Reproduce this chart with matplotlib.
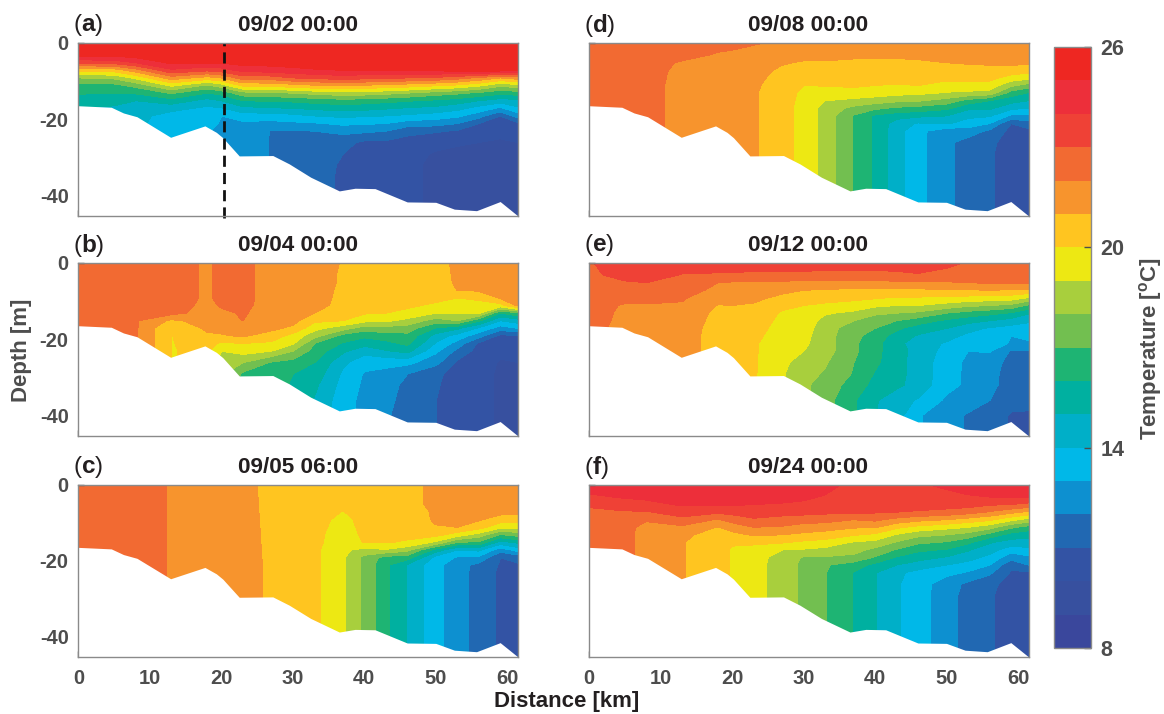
import numpy as np
import matplotlib
matplotlib.use("Agg")
import matplotlib.pyplot as plt
from matplotlib.colors import ListedColormap, BoundaryNorm
from matplotlib.cm import ScalarMappable

plt.rcParams.update({
    "font.family": "Liberation Sans", "font.weight": "bold",
    "mathtext.fontset": "custom", "mathtext.rm": "Liberation Sans:weight=normal",
    "mathtext.bf": "Liberation Sans:bold", "axes.unicode_minus": False,
})

# Section coordinates
distance_km = [0, 5, 8, 13, 18, 20, 23, 27, 30, 33, 37, 40, 43, 46, 50, 53, 56, 59, 61.5]
depth_m = [0, -3, -5, -7, -9, -11, -13, -15, -17, -19, -21, -23, -26, -29, -32, -36, -40, -46]
# Sea floor
bottom_km = [0, 4.6, 6.3, 8.2, 12.9, 17.7, 19.3, 20.2, 22.5, 27.2, 29.5, 32.5, 36.5, 38.7, 41.5, 46, 50, 52.6, 55.7, 59, 61.5]
bottom_m = [-16.5, -16.9, -18.4, -19.4, -24.8, -21.8, -23.5, -24.9, -29.7, -29.6, -31.8, -35.3, -38.9, -38.2, -38.3, -41.8, -41.9, -43.7, -44.1, -41.7, -45.5]

# Temperature profiles: one line per distance, one value per depth
temp_a = [
 [25.8,25.3,23.2,20.2,18.0,16.6,16.1,15.4,15.0,15.0,15.0,15.0,15.0,15.0,15.0,15.0,15.0,15.0],
 [25.8,25.3,23.4,20.4,18.2,16.7,16.0,15.2,14.9,14.9,14.9,14.9,14.9,14.9,14.9,14.9,14.9,14.9],
 [25.8,25.5,24.0,21.5,19.2,17.3,16.1,15.0,14.4,14.3,14.3,14.3,14.3,14.3,14.3,14.3,14.3,14.3],
 [25.8,25.6,25.2,23.8,21.5,19.2,17.1,15.6,14.3,13.6,13.3,13.2,13.2,13.2,13.2,13.2,13.2,13.2],
 [25.8,25.6,25.1,23.2,20.6,17.8,16.0,14.6,13.8,13.5,13.3,13.1,13.0,13.0,13.0,13.0,13.0,13.0],
 [25.8,25.6,25.1,23.5,21.0,18.5,16.3,15.0,13.9,13.0,12.9,12.7,12.7,12.7,12.7,12.7,12.7,12.7],
 [25.8,25.6,25.4,24.3,22.5,20.2,17.6,16.0,14.7,13.5,12.8,12.6,12.6,12.6,12.6,12.6,12.6,12.6],
 [25.8,25.7,25.4,24.5,22.5,20.3,17.8,16.1,14.9,13.5,12.7,11.95,11.9,11.9,11.9,11.9,11.9,11.9],
 [25.8,25.7,25.5,24.7,23.0,20.6,18.0,16.2,15.0,13.7,12.8,11.9,11.6,11.5,11.5,11.5,11.5,11.5],
 [25.8,25.7,25.5,24.9,23.2,20.9,18.3,16.4,15.2,14.0,12.9,12.0,11.5,11.3,11.3,11.3,11.3,11.3],
 [25.8,25.7,25.6,25.0,23.5,21.0,18.6,16.6,15.4,14.2,13.2,12.3,11.3,11.0,10.9,10.85,10.85,10.85],
 [25.8,25.7,25.6,25.0,23.3,20.9,18.5,16.5,15.3,14.1,13.1,12.2,10.8,10.6,10.5,10.4,10.4,10.4],
 [25.8,25.7,25.6,25.1,23.2,20.7,18.3,16.3,15.1,14.0,13.0,12.0,10.8,10.5,10.4,10.3,10.3,10.3],
 [25.8,25.7,25.6,25.1,23.0,20.5,18.0,16.1,14.9,13.8,12.5,11.3,10.6,10.3,10.2,10.2,10.2,10.2],
 [25.8,25.7,25.6,25.2,22.8,20.1,17.5,15.8,14.7,13.5,12.4,11.1,10.3,9.9,9.8,9.8,9.8,9.8],
 [25.8,25.7,25.6,25.3,22.4,19.8,17.2,15.5,14.3,13.2,12.0,10.9,10.1,9.8,9.7,9.7,9.7,9.7],
 [25.8,25.7,25.6,25.4,21.8,19.2,16.8,15.0,13.6,12.4,11.0,10.5,10.0,9.7,9.7,9.7,9.7,9.7],
 [25.8,25.7,25.6,25.4,21.0,18.2,16.3,14.5,12.8,11.0,10.4,10.2,9.9,9.7,9.7,9.7,9.7,9.7],
 [25.8,25.7,25.6,25.3,21.5,18.6,16.5,14.7,13.8,12.4,10.8,10.4,10.0,9.8,9.8,9.8,9.8,9.8],
]
temp_b = [
 [22.5,22.5,22.5,22.5,22.5,22.5,22.5,22.5,22.5,22.5,22.5,22.5,22.5,22.5,22.5,22.5,22.5,22.5],
 [22.5,22.5,22.5,22.5,22.5,22.5,22.5,22.5,22.5,22.5,22.5,22.5,22.5,22.5,22.5,22.5,22.5,22.5],
 [22.5,22.5,22.5,22.5,22.4,22.2,22.1,22.1,22.1,22.1,22.1,22.1,22.1,22.1,22.1,22.1,22.1,22.1],
 [22.6,22.6,22.6,22.6,22.6,22.5,22.3,20.8,19.95,19.95,19.95,19.95,19.95,19.95,19.95,19.95,19.95,19.95],
 [21.8,21.8,21.8,21.8,21.8,21.7,21.6,21.4,21.2,20.8,20.4,20.2,20.2,20.2,20.2,20.2,20.2,20.2],
 [22.3,22.3,22.3,22.3,22.3,22.1,21.8,21.5,21.3,20.9,19.8,19.0,18.2,18.2,18.2,18.2,18.2,18.2],
 [22.2,22.2,22.2,22.2,22.2,22.2,22.1,22.0,21.6,21.1,20.0,19.4,18.0,16.8,16.6,16.6,16.6,16.6],
 [21.7,21.7,21.7,21.7,21.7,21.6,21.5,21.4,21.2,20.6,19.8,19.0,16.9,16.4,16.3,16.3,16.3,16.3],
 [21.6,21.6,21.6,21.6,21.6,21.6,21.6,21.3,20.8,19.6,19.1,18.0,16.6,16.0,15.9,15.9,15.9,15.9],
 [21.6,21.6,21.6,21.6,21.6,21.5,21.0,20.2,19.3,18.4,17.0,16.6,16.0,15.6,15.2,14.9,14.8,14.8],
 [20.9,20.8,20.8,20.7,20.6,20.5,20.3,20.0,18.4,16.6,15.9,15.2,14.2,13.8,13.6,13.4,13.3,13.3],
 [20.9,20.8,20.7,20.6,20.5,20.4,20.1,19.3,17.5,16.2,15.4,14.3,13.4,12.9,12.8,12.7,12.7,12.7],
 [20.9,20.8,20.7,20.6,20.5,20.3,20.0,19.2,17.6,16.5,15.7,14.9,13.3,12.7,12.3,12.2,12.1,12.1],
 [20.9,20.8,20.7,20.6,20.4,20.2,19.7,18.7,17.5,16.7,16.2,15.3,13.3,12.0,11.8,11.7,11.6,11.6],
 [20.8,20.7,20.6,20.5,20.3,19.8,19.0,17.5,15.9,14.6,13.9,13.2,12.3,11.2,11.1,11.0,11.0,11.0],
 [21.1,21.1,21.1,21.0,20.0,19.6,19.1,18.0,15.2,13.6,12.6,11.7,10.8,10.6,10.5,10.5,10.5,10.5],
 [21.2,21.2,21.2,21.1,20.2,19.6,19.2,16.2,13.8,12.4,10.8,10.6,10.5,10.4,10.4,10.4,10.4,10.4],
 [21.3,21.3,21.3,21.2,21.1,19.6,16.0,14.0,12.5,10.7,10.4,10.2,9.9,9.8,9.8,9.8,9.8,9.8],
 [21.4,21.4,21.4,21.4,21.3,21.2,16.8,14.5,13.0,10.9,10.6,10.3,10.0,9.9,9.9,9.9,9.9,9.9],
]
temp_c = [
 [22.6,22.6,22.6,22.6,22.6,22.6,22.6,22.6,22.6,22.6,22.6,22.6,22.6,22.6,22.6,22.6,22.6,22.6],
 [22.6,22.6,22.6,22.6,22.6,22.6,22.6,22.6,22.6,22.6,22.6,22.6,22.6,22.6,22.6,22.6,22.6,22.6],
 [22.5,22.5,22.5,22.5,22.5,22.5,22.5,22.5,22.5,22.5,22.5,22.5,22.5,22.5,22.5,22.5,22.5,22.5],
 [21.9,21.9,21.9,21.9,21.9,21.9,21.9,21.9,21.9,21.9,21.9,21.9,21.9,21.9,21.9,21.9,21.9,21.9],
 [21.5,21.5,21.5,21.5,21.5,21.5,21.5,21.5,21.5,21.5,21.5,21.5,21.5,21.5,21.5,21.5,21.5,21.5],
 [21.4,21.4,21.4,21.4,21.4,21.4,21.4,21.4,21.4,21.4,21.4,21.4,21.4,21.4,21.4,21.4,21.4,21.4],
 [21.15,21.15,21.16,21.16,21.17,21.17,21.18,21.18,21.19,21.19,21.2,21.2,21.2,21.2,21.2,21.2,21.2,21.2],
 [20.85,20.85,20.86,20.86,20.87,20.87,20.88,20.88,20.89,20.89,20.9,20.9,20.9,20.9,20.9,20.9,20.9,20.9],
 [20.7,20.7,20.7,20.7,20.7,20.7,20.7,20.7,20.7,20.7,20.7,20.7,20.7,20.7,20.7,20.7,20.7,20.7],
 [20.5,20.5,20.5,20.5,20.4,20.4,20.3,20.3,20.2,20.2,20.2,20.2,20.2,20.2,20.2,20.2,20.2,20.2],
 [20.4,20.3,20.2,19.95,19.7,19.5,19.4,19.3,19.2,19.1,19.1,19.1,19.1,19.1,19.1,19.1,19.1,19.1],
 [20.4,20.4,20.4,20.4,20.3,20.3,20.2,20.05,18.7,17.7,17.7,17.7,17.7,17.7,17.7,17.7,17.7,17.7],
 [20.5,20.5,20.5,20.5,20.4,20.3,20.2,20.05,18.9,16.6,16.2,16.2,16.2,16.2,16.2,16.2,16.2,16.2],
 [20.7,20.7,20.7,20.6,20.5,20.4,20.2,19.9,18.3,16.5,14.9,14.9,14.9,14.9,14.9,14.9,14.9,14.9],
 [21.2,21.2,21.2,21.1,21.1,20.95,20.3,18.8,15.6,13.6,13.3,13.3,13.3,13.3,13.3,13.3,13.3,13.3],
 [21.4,21.4,21.4,21.3,21.2,21.0,19.5,17.0,14.0,12.9,12.4,12.4,12.4,12.4,12.4,12.4,12.4,12.4],
 [21.5,21.5,21.5,21.4,21.1,20.4,18.6,16.8,14.2,12.8,11.7,11.6,11.6,11.6,11.6,11.6,11.6,11.6],
 [21.6,21.6,21.6,21.3,20.5,19.3,16.9,14.6,12.4,11.0,10.9,10.8,10.8,10.8,10.8,10.8,10.8,10.8],
 [21.8,21.7,21.7,21.2,20.4,19.2,17.4,15.2,13.4,11.3,10.9,10.7,10.5,10.5,10.5,10.5,10.5,10.5],
]
temp_d = [
 [22.95,22.8,22.8,22.8,22.8,22.8,22.8,22.8,22.8,22.8,22.8,22.8,22.8,22.8,22.8,22.8,22.8,22.8],
 [22.7,22.6,22.6,22.6,22.6,22.6,22.6,22.6,22.6,22.6,22.6,22.6,22.6,22.6,22.6,22.6,22.6,22.6],
 [22.6,22.5,22.4,22.3,22.3,22.3,22.3,22.3,22.3,22.3,22.3,22.3,22.3,22.3,22.3,22.3,22.3,22.3],
 [22.5,22.3,21.9,21.8,21.75,21.7,21.7,21.7,21.7,21.7,21.7,21.7,21.7,21.7,21.7,21.7,21.7,21.7],
 [22.3,21.9,21.7,21.6,21.5,21.5,21.4,21.4,21.4,21.4,21.4,21.4,21.4,21.4,21.4,21.4,21.4,21.4],
 [22.2,21.85,21.6,21.5,21.45,21.4,21.4,21.4,21.4,21.4,21.4,21.4,21.4,21.4,21.4,21.4,21.4,21.4],
 [22.05,21.7,21.5,21.4,21.3,21.2,21.1,21.1,21.1,21.1,21.1,21.1,21.1,21.1,21.1,21.1,21.1,21.1],
 [21.85,21.4,21.1,20.8,20.6,20.4,20.4,20.4,20.4,20.4,20.4,20.4,20.4,20.4,20.4,20.4,20.4,20.4],
 [21.8,21.3,20.9,20.6,20.3,20.0,19.8,19.7,19.6,19.6,19.6,19.6,19.6,19.6,19.6,19.6,19.6,19.6],
 [21.7,21.3,20.9,20.6,20.3,20.05,19.5,19.0,18.6,18.6,18.6,18.6,18.6,18.6,18.6,18.6,18.6,18.6],
 [21.6,21.3,20.7,20.6,20.3,20.1,19.7,18.7,17.7,16.9,16.9,16.9,16.9,16.9,16.9,16.9,16.9,16.9],
 [21.6,21.2,20.7,20.5,20.25,20.0,19.5,18.5,17.2,15.8,15.75,15.75,15.75,15.75,15.75,15.75,15.75,15.75],
 [21.6,21.2,20.75,20.45,20.2,19.95,19.3,18.2,16.8,15.4,14.5,14.4,14.4,14.4,14.4,14.4,14.4,14.4],
 [21.6,21.3,20.8,20.4,20.2,20.0,19.2,18.1,16.6,15.2,13.9,13.3,13.3,13.3,13.3,13.3,13.3,13.3],
 [21.6,21.4,21.0,20.45,20.2,19.7,18.9,17.6,16.2,15.0,14.1,12.3,12.2,12.2,12.2,12.2,12.2,12.2],
 [21.6,21.4,21.1,20.6,20.4,19.6,18.8,16.6,15.2,14.2,13.6,12.5,11.6,11.6,11.6,11.6,11.6,11.6],
 [21.6,21.4,21.15,20.7,20.3,19.6,18.6,16.0,15.2,14.1,13.0,11.8,11.2,11.1,11.1,11.1,11.1,11.1],
 [21.6,21.4,21.2,20.6,19.6,18.2,16.5,15.4,14.2,12.8,11.0,10.7,10.6,10.6,10.6,10.6,10.6,10.6],
 [21.7,21.5,21.2,20.4,19.3,17.5,15.9,15.0,14.0,12.7,11.6,10.7,10.6,10.6,10.6,10.6,10.6,10.6],
]
temp_e = [
 [22.9,22.8,22.7,22.6,22.5,22.4,22.4,22.3,22.3,22.3,22.3,22.3,22.3,22.3,22.3,22.3,22.3,22.3],
 [23.5,23.3,22.9,22.6,22.3,21.9,21.8,21.8,21.7,21.7,21.7,21.7,21.7,21.7,21.7,21.7,21.7,21.7],
 [23.6,23.4,23.0,22.7,22.4,21.9,21.8,21.7,21.6,21.6,21.6,21.6,21.6,21.6,21.6,21.6,21.6,21.6],
 [23.4,22.95,22.8,22.5,22.1,21.9,21.8,21.7,21.6,21.5,21.5,21.5,21.5,21.5,21.5,21.5,21.5,21.5],
 [23.4,22.9,22.0,21.7,21.4,20.95,20.7,20.6,20.5,20.5,20.5,20.5,20.5,20.5,20.5,20.5,20.5,20.5],
 [23.4,22.9,21.9,21.6,21.3,21.0,20.7,20.5,20.4,20.3,20.3,20.3,20.3,20.3,20.3,20.3,20.3,20.3],
 [23.4,22.8,21.8,21.5,21.2,20.9,20.6,20.4,20.3,20.2,20.1,20.1,20.1,20.1,20.1,20.1,20.1,20.1],
 [23.4,22.8,21.8,21.2,20.8,20.2,19.9,19.8,19.7,19.6,19.5,19.4,19.2,19.1,19.1,19.1,19.1,19.1],
 [23.4,22.8,21.7,21.0,20.5,20.0,19.6,19.5,19.4,19.3,19.2,19.0,18.6,18.3,18.2,18.2,18.2,18.2],
 [23.3,22.8,21.7,20.9,20.4,19.8,19.1,18.7,18.5,18.4,18.4,18.4,18.1,17.9,17.5,17.4,17.4,17.4],
 [23.3,22.8,21.7,20.8,20.3,19.5,18.8,18.0,17.4,17.3,17.2,17.2,17.0,16.9,16.6,16.1,16.1,16.1],
 [23.3,22.8,21.7,20.7,20.1,19.2,18.2,17.4,17.0,16.5,16.3,16.3,16.2,15.9,15.6,15.1,15.0,15.0],
 [23.4,22.8,21.8,20.8,19.9,19.0,18.0,17.0,16.2,15.6,15.3,15.3,15.3,15.3,15.2,14.4,14.4,14.4],
 [23.6,22.9,21.8,20.8,19.9,19.0,17.8,16.5,15.5,14.9,14.4,14.7,14.6,14.6,14.6,13.9,13.1,13.1],
 [23.2,22.7,21.9,20.9,19.8,18.6,17.0,15.8,15.0,14.3,13.9,13.6,13.4,13.35,13.3,12.8,12.3,12.3],
 [22.9,22.7,22.0,20.9,19.7,18.2,16.6,15.4,14.3,13.8,13.4,13.0,12.8,12.8,12.8,12.4,11.9,11.9],
 [22.9,22.7,22.1,21.0,19.6,18.0,16.3,15.0,13.9,13.6,13.5,13.1,12.4,12.3,12.3,12.0,11.5,11.5],
 [22.9,22.7,22.1,20.9,19.5,17.7,15.9,14.6,13.6,13.0,12.9,11.9,11.7,11.6,11.5,11.3,10.9,10.9],
 [22.8,22.6,22.1,20.8,18.9,16.8,15.1,14.1,13.7,13.3,12.8,11.9,11.8,11.7,11.5,11.2,10.9,10.9],
]
temp_f = [
 [24.5,23.8,23.2,22.7,22.6,22.5,22.5,22.4,22.4,22.4,22.4,22.4,22.4,22.4,22.4,22.4,22.4,22.4],
 [24.6,24.1,23.5,22.9,22.4,22.3,22.2,22.2,22.2,22.2,22.2,22.2,22.2,22.2,22.2,22.2,22.2,22.2],
 [24.6,24.2,23.7,22.9,22.1,21.7,21.7,21.7,21.7,21.7,21.7,21.7,21.7,21.7,21.7,21.7,21.7,21.7],
 [24.9,24.5,24.1,23.5,22.7,21.8,21.2,21.05,21.05,21.05,21.05,21.05,21.05,21.05,21.05,21.05,21.05,21.05],
 [24.9,24.6,24.1,23.2,21.9,20.95,20.6,20.4,20.3,20.3,20.3,20.3,20.3,20.3,20.3,20.3,20.3,20.3],
 [24.9,24.6,24.1,23.3,22.4,21.4,20.7,20.1,19.9,19.9,19.9,19.9,19.9,19.9,19.9,19.9,19.9,19.9],
 [24.9,24.5,24.0,23.4,22.9,22.0,21.1,20.2,19.6,19.5,19.45,19.45,19.45,19.45,19.45,19.45,19.45,19.45],
 [24.9,24.4,23.9,23.4,22.6,21.9,21.0,20.1,19.0,18.5,18.4,18.4,18.4,18.4,18.4,18.4,18.4,18.4],
 [24.8,24.2,23.8,23.3,22.5,21.5,20.8,19.8,18.9,17.9,17.8,17.8,17.8,17.8,17.8,17.8,17.8,17.8],
 [24.4,23.9,23.6,23.2,22.4,21.4,20.6,19.6,18.7,17.9,17.1,17.05,17.05,17.05,17.05,17.05,17.05,17.05],
 [23.6,23.5,23.4,23.2,22.0,21.1,20.1,18.9,18.4,17.7,16.5,15.95,15.95,15.95,15.95,15.95,15.95,15.95],
 [23.7,23.5,23.3,23.1,22.2,21.1,19.8,18.7,17.7,16.9,15.7,15.05,15.05,15.05,15.05,15.05,15.05,15.05],
 [23.8,23.6,23.3,23.0,21.7,20.2,18.9,17.9,16.9,15.9,15.0,14.2,14.1,14.1,14.1,14.1,14.1,14.1],
 [23.9,23.7,23.4,22.9,21.3,19.7,18.3,17.2,16.2,15.4,14.5,13.7,13.5,13.5,13.5,13.5,13.5,13.5],
 [24.1,23.8,23.4,22.7,21.0,19.3,18.0,16.9,15.9,14.9,14.0,13.3,12.4,12.3,12.3,12.3,12.3,12.3],
 [24.4,23.9,23.4,22.4,20.6,19.0,17.6,16.2,15.1,14.4,13.6,12.9,11.8,11.7,11.7,11.7,11.7,11.7],
 [24.5,24.0,23.1,21.9,20.2,18.4,16.6,15.1,14.4,13.7,13.0,12.2,11.2,11.1,11.1,11.1,11.1,11.1],
 [24.6,24.0,23.0,21.3,19.3,17.2,15.6,14.6,13.4,12.4,11.2,10.9,10.7,10.6,10.6,10.6,10.6,10.6],
 [24.6,24.0,22.7,20.8,18.6,16.6,15.3,14.6,13.7,12.8,12.0,10.9,10.6,10.5,10.5,10.5,10.5,10.5],
]

panel_letters = ["a", "b", "c", "d", "e", "f"]
panel_times = ["09/02 00:00", "09/04 00:00", "09/05 06:00", "09/08 00:00", "09/12 00:00", "09/24 00:00"]
panel_temps = [temp_a, temp_b, temp_c, temp_d, temp_e, temp_f]
transect_km = 20.3
temp_levels = list(range(8, 27))
temp_colors = ["#3A479C", "#37509F", "#3353A4", "#2168B2", "#0D90D0", "#00B8E8", "#00AFC8", "#00B0A0", "#1EB473",
               "#72BF50", "#A8CF3D", "#EDE813", "#FFC520", "#F7942D", "#F26A32", "#EF4136", "#ED2F3A", "#EE2722"]
cbar_ticks = [8, 14, 20, 26]

W, H = 1164, 714
GRAY, DARK, SPINE = "#4d4d4d", "#231f20", "#8a8a8a"
fig = plt.figure(figsize=(W / 100, H / 100), dpi=100)
cmap = ListedColormap(temp_colors)
norm = BoundaryNorm(temp_levels, cmap.N)


def box(l, t, r, b):
    return [l / W, 1 - b / H, (r - l) / W, (b - t) / H]


def label_px(x, y, s, **kw):
    fig.text(x / W, 1 - y / H, s, ha=kw.pop("ha", "center"), va="center", **kw)


cols = [(78.4, 518), (589, 1028.7)]
rows = [(43, 216), (263, 436), (485, 657)]
for i, (let, when, temp) in enumerate(zip(panel_letters, panel_times, panel_temps)):
    c, r = i // 3, i % 3
    ax = fig.add_axes(box(cols[c][0], rows[r][0], cols[c][1], rows[r][1]))
    cf = ax.contourf(distance_km, depth_m, np.array(temp).T, levels=temp_levels, colors=temp_colors)
    cf.set_edgecolor("face")
    ax.fill_between(bottom_km, bottom_m, -46, color="white", lw=0, zorder=2)
    ax.set_xlim(0, 61.5)
    ax.set_ylim(-45.5, 0)
    ax.set_xticks(range(0, 61, 10))
    ax.set_yticks([0, -20, -40])
    ax.tick_params(direction="in", length=4, width=1, color=GRAY, labelcolor=GRAY, labelsize=14.5, pad=7,
                   labelleft=c == 0, labelbottom=r == 2)
    ax.tick_params(axis="x", pad=9)
    for sp in ax.spines.values():
        sp.set_color(SPINE)
        sp.set_linewidth(1.0)
        sp.set_zorder(5)
    if let == "a":
        ax.plot([transect_km, transect_km], [-46, 0], color="#111111", lw=2, ls=(0, (4, 2.2)), zorder=4, clip_on=False)
    label_px(cols[c][0] + 220 - 1 * c, rows[r][0] - 17.5, when, fontsize=16.2, color=DARK)
    label_px(cols[c][0] - 5.5, rows[r][0] - 17.5, r"$\mathrm{(}\mathbf{%s}\mathrm{)}$" % let, fontsize=17.5, color=DARK, ha="left")

cax = fig.add_axes(box(1054, 47, 1091, 648))
cb = fig.colorbar(ScalarMappable(norm=norm, cmap=cmap), cax=cax, ticks=cbar_ticks, spacing="proportional")
cb.ax.tick_params(direction="in", length=5, width=1, color=GRAY, labelcolor=GRAY, labelsize=15.5, pad=7)
cb.minorticks_off()
cb.outline.set_edgecolor(SPINE)
cb.outline.set_linewidth(1.0)

label_px(567, 701, "Distance [km]", fontsize=16, color=DARK)
label_px(22, 350, "Depth [m]", fontsize=16, color=GRAY, rotation=90)
label_px(1150, 349, r"Temperature [$\mathbf{^{o}}$C]", fontsize=16, color=GRAY, rotation=90)

fig.savefig("out.png", dpi=100)
